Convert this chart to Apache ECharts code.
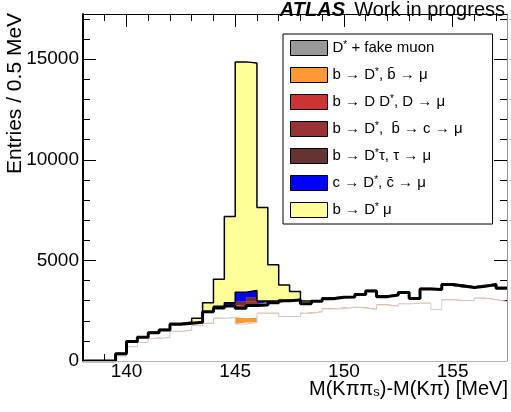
<!DOCTYPE html>
<html>
<head>
<meta charset="utf-8">
<title>D* mass difference</title>
<script src="https://cdn.jsdelivr.net/npm/echarts@6/dist/echarts.min.js"></script>
<style>
html, body { margin: 0; padding: 0; background: #fff; }
#main { width: 511px; height: 412px; }
</style>
</head>
<body>
<div id="main"></div>
<script>
// bin edges in MeV (0.5 MeV bins), last value closes the final bin
var binEdges = [138.0, 138.5, 139.0, 139.5, 140.0, 140.5, 141.0, 141.5, 142.0, 142.5,
                143.0, 143.5, 144.0, 144.5, 145.0, 145.5, 146.0, 146.5, 147.0, 147.5,
                148.0, 148.5, 149.0, 149.5, 150.0, 150.5, 151.0, 151.5, 152.0, 152.5,
                153.0, 153.5, 154.0, 154.5, 155.0, 155.5, 156.0, 156.5, 157.0, 157.5];

// stacked components, bottom to top (entries per bin)
var fakeMuon  = [0, 0, 0, 250, 710, 920, 1120, 1170, 1470, 1520,
                 1750, 1870, 2120, 2150, 1840, 1920, 2370, 2370, 2210, 2210,
                 2370, 2440, 2590, 2590, 2670, 2640, 2560, 2790, 2720, 2840,
                 2870, 2870, 2560, 3040, 3000, 3000, 3120, 3040, 2955];
var bBbarMu   = [0, 0, 0, 10, 20, 20, 20, 30, 30, 40,
                 30, 30, 30, 30, 280, 230, 30, 30, 30, 30,
                 30, 30, 30, 30, 30, 30, 30, 30, 30, 30,
                 30, 30, 30, 30, 30, 30, 30, 30, 30];
var bDDstar   = [0, 0, 0, 100, 240, 240, 260, 340, 330, 320,
                 150, 550, 490, 560, 500, 610, 380, 500, 760, 790,
                 450, 500, 480, 550, 480, 630, 890, 380, 530, 530,
                 210, 680, 960, 730, 700, 620, 560, 730, 635];
var bBbarC    = [0, 0, 0, 0, 0, 0, 0, 0, 0, 0,
                 0, 0, 10, 20, 170, 200, 30, 10, 0, 0,
                 0, 0, 0, 0, 0, 0, 0, 0, 0, 0,
                 0, 0, 0, 0, 0, 0, 0, 0, 0];
var bTau      = [0, 0, 0, 0, 0, 0, 0, 0, 0, 0,
                 0, 0, 10, 20, 160, 190, 30, 10, 0, 0,
                 0, 0, 0, 0, 0, 0, 0, 0, 0, 0,
                 0, 0, 0, 0, 0, 0, 0, 0, 0];
var cCbar     = [0, 0, 0, 0, 0, 0, 0, 0, 0, 0,
                 0, 0, 60, 120, 470, 360, 145, 70, 20, 10,
                 0, 0, 0, 0, 0, 0, 0, 0, 0, 0,
                 0, 0, 0, 0, 0, 0, 0, 0, 0];
var signal    = [0, 0, 0, 10, 20, 20, 30, 30, 40, 60,
                 190, 450, 1340, 4280, 11450, 11300, 4645, 1790, 760, 410,
                 135, 40, 30, 30, 30, 30, 30, 30, 30, 30,
                 30, 30, 30, 30, 30, 30, 30, 30, 30];

var legendNames = ['D* + fake muon', 'b \u2192 D*, b\u0304 \u2192 \u03bc', 'b \u2192 D D*, D \u2192 \u03bc',
                   'b \u2192 D*,  b\u0304 \u2192 c \u2192 \u03bc', 'b \u2192 D*\u03c4, \u03c4 \u2192 \u03bc',
                   'c \u2192 D*, c\u0304 \u2192 \u03bc', 'b \u2192 D* \u03bc'];
var legendColors = ['#999999', '#ff9933', '#cc3333', '#993333', '#663333', '#0000ff', '#ffff99'];

var xLabelValues = [140, 145, 150, 155];
var xMinorTicks = [138, 139, 140, 141, 142, 143, 144, 145, 146, 147, 148, 149, 150, 151, 152, 153, 154, 155, 156, 157];
var yLabelValues = [0, 5000, 10000, 15000];
var yMinorTicks = [1000, 2000, 3000, 4000, 6000, 7000, 8000, 9000, 11000, 12000, 13000, 14000, 16000, 17000];

var FONT = 'Liberation Sans, Arial, Helvetica, sans-serif';

// value first, edge second, so the library stacks the counts and not the x positions
function toSteps(vals) {
    return binEdges.map(function (x, i) {
        return [vals[Math.min(i, vals.length - 1)], x];
    });
}

function hist(idx, vals, fill, line, z) {
    var s = {
        name: legendNames[idx],
        type: 'line',
        stack: 'all',
        step: 'end',
        showSymbol: false,
        symbol: 'none',
        z: z || 2,
        encode: { x: 1, y: 0 },
        data: toSteps(vals),
        itemStyle: { color: legendColors[idx] },
        lineStyle: line,
        emphasis: { disabled: true },
        silent: true
    };
    if (fill) s.areaStyle = { color: fill, opacity: 1 };
    return s;
}

function tickAxis(pos, values, len, extra) {
    var a = {
        type: 'value', position: pos,
        axisLine: { show: false, onZero: false },
        axisTick: { show: true, inside: true, length: len, customValues: values,
                    lineStyle: { color: '#000', width: 1 } },
        axisLabel: { show: false },
        splitLine: { show: false }
    };
    return Object.assign(a, extra);
}

var xRange = { min: 138, max: 157.5 };
var yRange = { min: 0, max: 17250 };
var plain = function (v) { return String(v); };

var chart = echarts.init(document.getElementById('main'));

chart.setOption({
    animation: false,
    backgroundColor: '#fff',
    grid: { left: 83, right: 4, top: 14, bottom: 51, outerBoundsMode: 'none' },
    xAxis: [
        Object.assign({
            type: 'value', position: 'bottom', z: 5,
            axisLine: { show: true, onZero: false, lineStyle: { color: '#bdb3b3', width: 1 } },
            axisTick: { show: false },
            axisLabel: { customValues: xLabelValues, formatter: plain, fontSize: 19, color: '#000', margin: 1, fontFamily: FONT },
            splitLine: { show: false }
        }, xRange),
        tickAxis('bottom', xMinorTicks, 7, xRange),
        tickAxis('bottom', xLabelValues, 13, xRange),
        Object.assign({
            type: 'value', position: 'top', z: 5,
            axisLine: { show: true, onZero: false, lineStyle: { color: '#000', width: 1 } },
            axisTick: { show: false }, axisLabel: { show: false }, splitLine: { show: false }
        }, xRange),
        tickAxis('top', xMinorTicks, 7, xRange),
        tickAxis('top', xLabelValues, 13, xRange)
    ],
    yAxis: [
        Object.assign({
            type: 'value', position: 'left', z: 5,
            axisLine: { show: true, onZero: false, lineStyle: { color: '#000', width: 2 } },
            axisTick: { show: false },
            axisLabel: { customValues: yLabelValues, formatter: plain, fontSize: 19, color: '#000', margin: 4, fontFamily: FONT },
            splitLine: { show: false }
        }, yRange),
        tickAxis('left', yMinorTicks, 7, yRange),
        tickAxis('left', yLabelValues, 13, yRange),
        Object.assign({
            type: 'value', position: 'right', z: 5,
            axisLine: { show: true, onZero: false, lineStyle: { color: '#9a9090', width: 1 } },
            axisTick: { show: false }, axisLabel: { show: false }, splitLine: { show: false }
        }, yRange),
        tickAxis('right', yMinorTicks, 7, yRange),
        tickAxis('right', yLabelValues, 13, yRange)
    ],
    legend: {
        orient: 'vertical',
        left: 283, top: 34,
        padding: [6, 30, 6, 7],
        itemWidth: 37, itemHeight: 15, itemGap: 11,
        backgroundColor: '#fff',
        borderColor: '#000', borderWidth: 1, borderRadius: 0,
        selectedMode: false,
        icon: 'rect',
        data: legendNames.map(function (n, i) {
            return { name: n, itemStyle: { color: legendColors[i], borderColor: '#000', borderWidth: 1 } };
        }),
        formatter: function (name) { return name.replace(/\*/g, '{sup|*}'); },
        textStyle: {
            fontSize: 15, color: '#000', fontFamily: FONT,
            rich: { sup: { fontSize: 10, lineHeight: 10, verticalAlign: 'top', color: '#000', fontFamily: FONT } }
        }
    },
    graphic: [
        { type: 'text', x: 345, y: 0, silent: true,
          style: { text: 'ATLAS', align: 'right', verticalAlign: 'top', fontSize: 20,
                   fontWeight: 'bold', fontStyle: 'italic', fontFamily: FONT, fill: '#000' } },
        { type: 'text', x: 505, y: 0, silent: true,
          style: { text: 'Work in progress', align: 'right', verticalAlign: 'top', fontSize: 20,
                   fontFamily: FONT, fill: '#000' } },
        { type: 'text', x: 5, y: 174, rotation: Math.PI / 2, silent: true,
          style: { text: 'Entries / 0.5 MeV', align: 'left', verticalAlign: 'top', fontSize: 21,
                   fontFamily: FONT, fill: '#000' } },
        { type: 'text', x: 508, y: 379, silent: true,
          style: { text: 'M(K\u03c0\u03c0{s|s})-M(K\u03c0) [MeV]', align: 'right', verticalAlign: 'top',
                   fontSize: 20, fontFamily: FONT, fill: '#000',
                   rich: { s: { fontSize: 13, lineHeight: 6, verticalAlign: 'bottom', fontFamily: FONT, fill: '#000' } } } }
    ],
    series: [
        hist(0, fakeMuon, '#ffffff', { color: '#d2c6c6', width: 1 }, 3),
        hist(1, bBbarMu, '#ff9933', { width: 0 }),
        hist(2, bDDstar, null, { color: '#000', width: 3 }, 4),
        hist(3, bBbarC, '#993333', { color: '#cc3333', width: 0.6 }),
        hist(4, bTau, '#663333', { color: '#993333', width: 0.6 }),
        hist(5, cCbar, '#0000ff', { color: '#000', width: 1.5 }),
        hist(6, signal, '#ffff99', { color: '#000', width: 1.5 })
    ]
});
</script>
</body>
</html>
